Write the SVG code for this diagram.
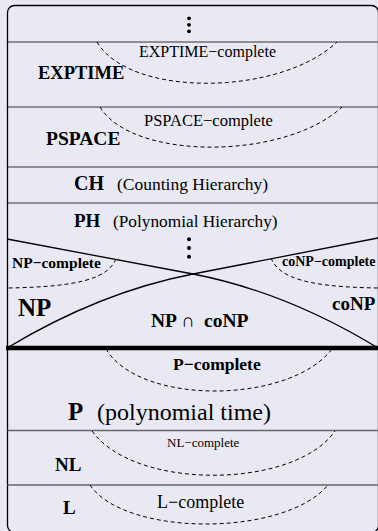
<svg xmlns="http://www.w3.org/2000/svg" width="378" height="531" viewBox="0 0 378 531">
<style>
.bg{fill:#e9e9f3}
.frame{fill:none;stroke:#000;stroke-width:1.3}
.sep{stroke:#333;stroke-width:1.2}
.sep2{stroke:#666;stroke-width:1.6}
.dash{fill:none;stroke:#000;stroke-width:1;stroke-dasharray:4,3}
.solid{fill:none;stroke:#000;stroke-width:1.3}
text{font-family:"Liberation Serif","DejaVu Serif",serif;fill:#000}
.b{font-weight:bold}
</style>
<rect class="bg" x="0" y="0" width="378" height="531"/>
<rect class="frame" x="7.5" y="5.5" width="371" height="527" rx="7"/>
<g id="separators">
<line class="sep" x1="7.5" y1="42" x2="378" y2="42"/>
<line class="sep" x1="7.5" y1="107" x2="378" y2="107"/>
<line class="sep" x1="7.5" y1="167" x2="378" y2="167"/>
<line class="sep" x1="7.5" y1="203" x2="378" y2="203"/>
<line x1="6" y1="348" x2="378" y2="348" stroke="#000" stroke-width="4.5"/>
<line class="sep2" x1="7.5" y1="430.5" x2="378" y2="430.5"/>
<line class="sep2" x1="7.5" y1="485" x2="378" y2="485"/>
</g>
<g id="top-dots">
<circle cx="189" cy="18.3" r="1.9"/>
<circle cx="189" cy="24.8" r="1.9"/>
<circle cx="189" cy="31.3" r="1.9"/>
</g>
<g id="EXPTIME">
<path class="dash" d="M97,42 C130,98 280,96 337,42"/>
<text class="b" x="38" y="79" font-size="18.5">EXPTIME</text>
<text x="139" y="57" font-size="16">EXPTIME−complete</text>
</g>
<g id="PSPACE">
<path class="dash" d="M100,107 C133,161 285,160 342,107"/>
<text class="b" x="46" y="145" font-size="19.5">PSPACE</text>
<text x="144" y="126" font-size="16.5">PSPACE−complete</text>
</g>
<g id="CH">
<text class="b" x="74" y="190" font-size="20">CH</text>
<text x="117" y="190" font-size="17.5">(Counting Hierarchy)</text>
</g>
<g id="PH">
<text class="b" x="74" y="227" font-size="19">PH</text>
<text x="113" y="227" font-size="17.3">(Polynomial Hierarchy)</text>
<circle cx="189" cy="239.3" r="2"/>
<circle cx="189" cy="248" r="2"/>
<circle cx="189" cy="256.7" r="2"/>
</g>
<g id="NP-coNP">
<path class="solid" d="M7,348 Q100,292 193,274 L378,238"/>
<path class="solid" d="M378,348 Q286,292 193,274 L7,239"/>
<path class="dash" d="M116,259 C108,278 80,287 7,288"/>
<path class="dash" d="M271,258 C279,278 308,287 378,288"/>
<text class="b" x="12" y="268" font-size="15.5">NP−complete</text>
<text class="b" x="282" y="266" font-size="14">coNP−complete</text>
<text class="b" x="18" y="316" font-size="25">NP</text>
<text class="b" x="332" y="310" font-size="19">coNP</text>
<text class="b" x="151" y="327" font-size="19.5">NP</text>
<text x="181" y="327" font-size="19">∩</text>
<text class="b" x="204" y="327" font-size="19.5">coNP</text>
</g>
<g id="P">
<path class="dash" d="M106,349 C140,406 290,404 332,349"/>
<text class="b" x="173" y="370" font-size="17.5">P−complete</text>
<text class="b" x="68" y="420" font-size="25">P</text>
<text x="97" y="420" font-size="24">(polynomial time)</text>
</g>
<g id="NL">
<path class="dash" d="M92,431 C135,491 295,489 335,431"/>
<text x="167" y="447" font-size="13">NL−complete</text>
<text class="b" x="55" y="471" font-size="19">NL</text>
</g>
<g id="L">
<path class="dash" d="M90,485 C125,537 285,537 328,485"/>
<text class="b" x="63" y="514" font-size="19">L</text>
<text x="157" y="508" font-size="18">L−complete</text>
</g>
</svg>
